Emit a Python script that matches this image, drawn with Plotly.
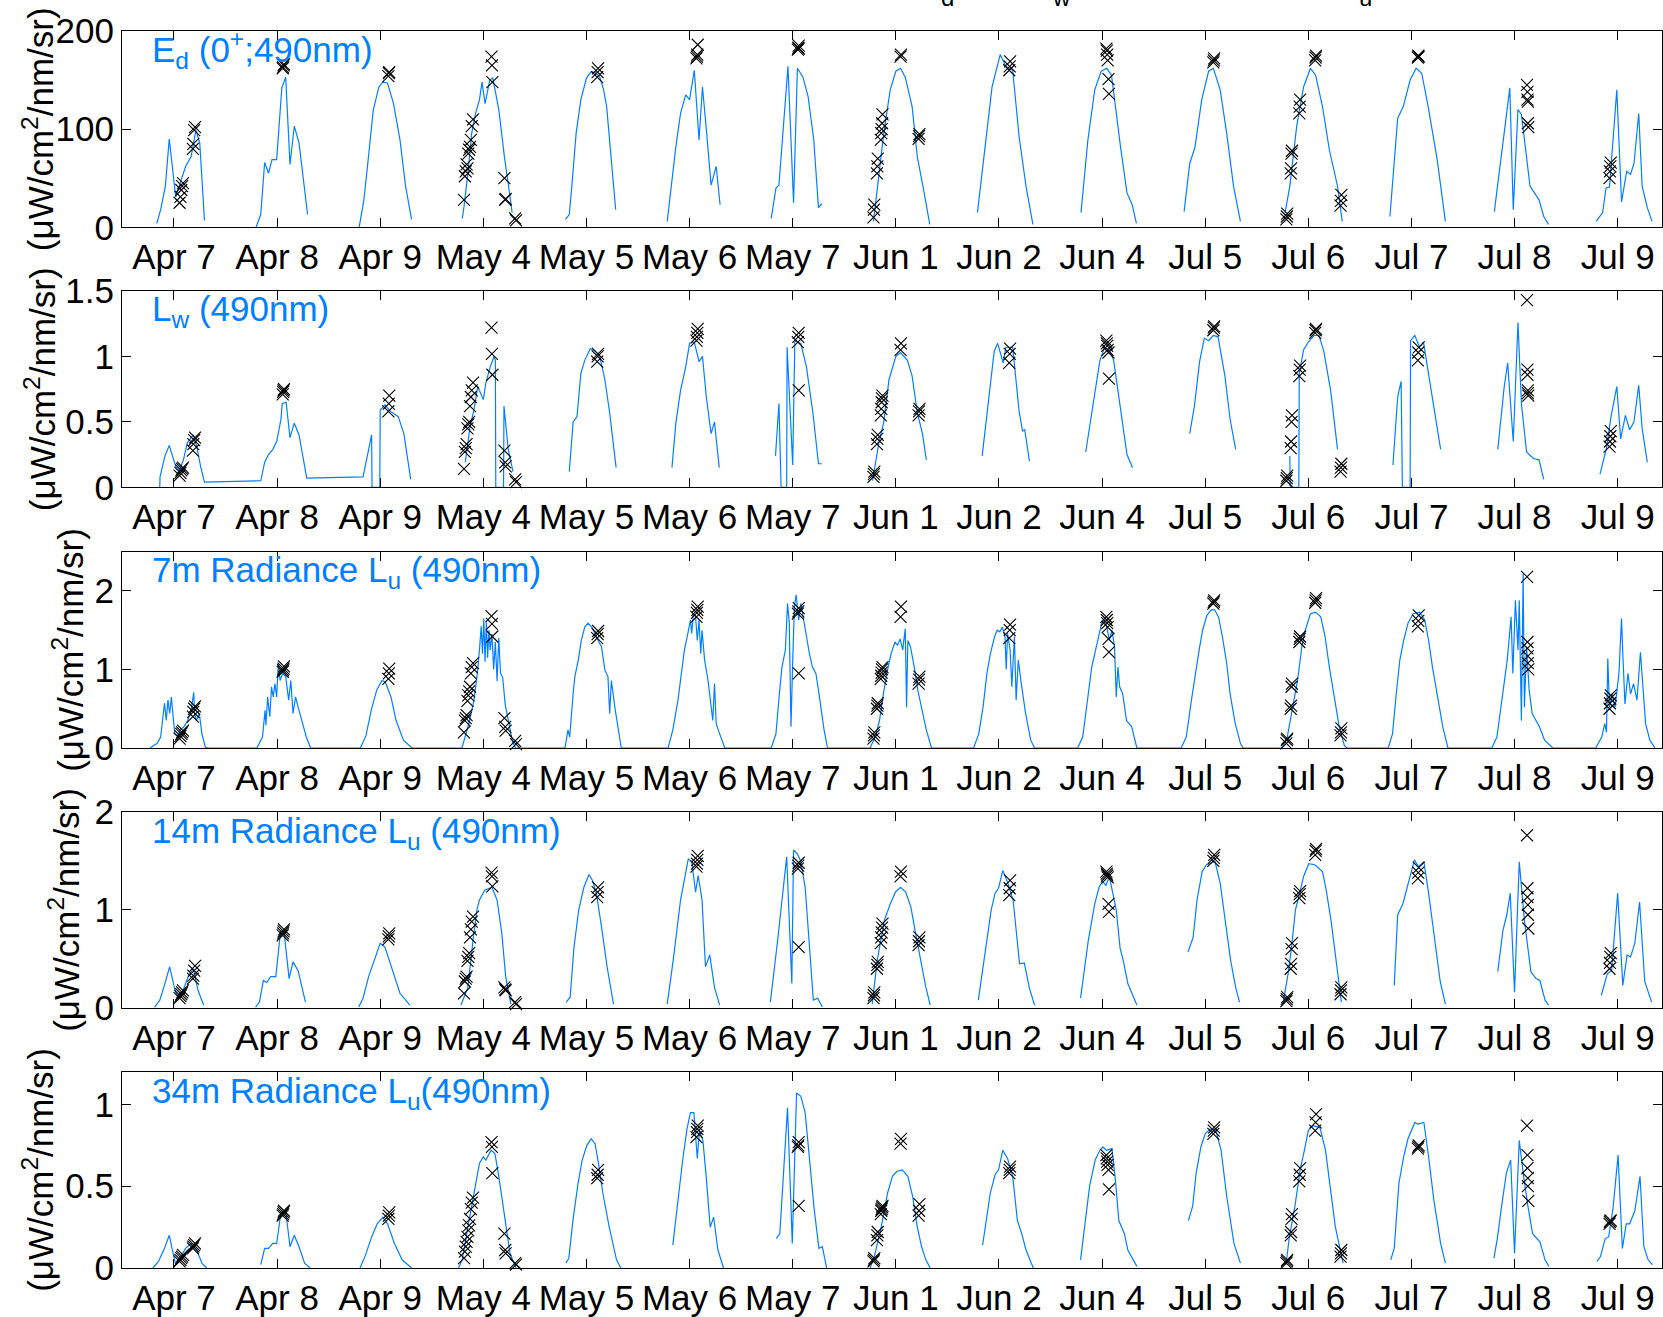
import plotly.graph_objects as go

# ---------------------------------------------------------------- data
DAY_LABELS = ["Apr 7", "Apr 8", "Apr 9", "May 4", "May 5", "May 6", "May 7",
              "Jun 1", "Jun 2", "Jun 4", "Jul 5", "Jul 6", "Jul 7", "Jul 8", "Jul 9"]

# in-situ cast times (local hour), shared by the five quantities
SAMPLE_HOURS = [
    [13.3, 13.5, 13.7, 13.9, 14.1, 16.4, 16.5, 16.7, 16.9],
    [13.3, 13.4, 13.5, 13.6],
    [13.9, 14.0, 14.1],
    [7.5, 7.7, 7.9, 8.1, 8.3, 8.5, 8.7, 8.9, 9.1, 9.3, 9.6, 13.9, 14.0, 14.1, 16.9, 17.1, 17.2, 19.4, 19.6],
    [14.5, 14.6, 14.7],
    [13.6, 13.7, 13.8, 13.9],
    [13.2, 13.3, 13.4, 13.4],
    [6.8, 6.9, 7.0, 7.6, 7.7, 7.8, 8.5, 8.6, 8.7, 8.8, 8.9, 13.1, 13.2, 17.3, 17.4, 17.5],
    [14.4, 14.5, 14.6],
    [13.0, 13.1, 13.2, 13.3, 13.5, 13.6],
    [13.9, 14.0, 14.1],
    [6.9, 7.0, 7.1, 7.9, 8.0, 8.1, 8.2, 9.9, 10.0, 10.1, 13.6, 13.7, 13.8, 19.5, 19.6, 19.7],
    [13.5, 13.6, 13.7],
    [14.9, 15.0, 15.0, 15.1, 15.1, 15.2],
    [10.1, 10.2, 10.3, 10.4],
]

# Ed(0+;490) -- buoy record
ED_HOURS = [
    [8.0, 8.9, 10.0, 10.9, 12.4, 13.3, 14.7, 16.0, 17.1, 18.0, 19.1],
    [7.1, 8.2, 9.1, 10.0, 10.8, 11.9, 13.1, 14.0, 15.0, 16.0, 17.1, 19.1],
    [7.1, 8.2, 9.2, 10.4, 11.7, 12.6, 13.7, 15.1, 16.6, 17.9, 19.3],
    [7.1, 7.5, 8.4, 9.3, 10.2, 11.1, 11.7, 12.4, 13.5, 14.2, 15.6, 16.9, 18.0, 18.7],
    [7.1, 8.0, 8.6, 9.6, 10.7, 12.0, 13.0, 14.0, 15.1, 16.0, 16.7, 17.8, 18.8],
    [6.8, 8.8, 9.9, 11.1, 12.0, 13.1, 14.2, 15.0, 16.0, 17.0, 18.2, 19.1],
    [7.0, 8.1, 8.8, 10.9, 12.2, 13.1, 14.4, 15.6, 16.9, 18.0, 18.8],
    [6.8, 7.9, 9.2, 10.7, 12.0, 13.1, 14.2, 15.8, 17.0, 18.6, 19.9],
    [7.0, 8.9, 10.4, 11.2, 12.3, 13.6, 15.2, 16.7, 18.3, 19.9],
    [7.1, 8.7, 10.3, 11.8, 13.1, 14.2, 16.3, 17.8, 19.0, 20.0],
    [7.1, 8.4, 9.6, 11.2, 12.8, 13.9, 15.5, 17.0, 18.6, 20.2],
    [6.6, 7.7, 9.3, 10.9, 12.5, 13.7, 15.3, 16.9, 18.8, 19.9],
    [7.0, 8.8, 10.1, 11.7, 13.1, 14.4, 15.9, 18.0, 19.9],
    [7.3, 9.3, 10.9, 11.7, 12.8, 13.6, 15.6, 17.7, 18.8, 19.9],
    [7.0, 8.5, 9.3, 10.1, 11.8, 12.9, 14.1, 15.0, 15.8, 16.9, 17.7, 18.9, 20.0],
]
ED_VALUES = [
    [4, 18, 42, 90, 31, 43, 62, 72, 99, 86, 7],
    [0, 13, 66, 55, 69, 69, 142, 153, 64, 103, 86, 13],
    [0, 28, 69, 120, 143, 148, 147, 126, 89, 42, 8],
    [9, 21, 55, 96, 116, 130, 148, 126, 150, 152, 120, 72, 38, 15],
    [8, 13, 42, 96, 130, 152, 158, 158, 153, 140, 123, 70, 18],
    [6, 82, 116, 135, 130, 160, 89, 143, 95, 43, 62, 23],
    [9, 40, 43, 164, 25, 162, 153, 133, 89, 20, 24],
    [6, 50, 96, 140, 159, 162, 153, 123, 72, 35, 3],
    [15, 89, 143, 157, 176, 164, 160, 92, 42, 3],
    [15, 89, 140, 159, 162, 155, 82, 35, 23, 4],
    [16, 65, 81, 130, 159, 162, 140, 96, 42, 6],
    [15, 42, 103, 143, 162, 155, 123, 79, 42, 6],
    [11, 111, 123, 150, 162, 157, 123, 69, 6],
    [16, 89, 142, 18, 120, 115, 42, 28, 11, 3],
    [6, 15, 40, 41, 140, 26, 57, 54, 65, 116, 42, 20, 6],
]
ED_SAMPLES = [
    [25, 31, 38, 42, 45, 80, 85, 99, 102],
    [162, 163, 165, 166],
    [154, 157, 158],
    [28, 52, 57, 64, 60, 75, 79, 82, 89, 103, 110, 174, 165, 148, 50, 28, 29, 9, 7],
    [153, 158, 162],
    [172, 174, 176, 186],
    [181, 183, 185, 182],
    [10, 18, 23, 55, 62, 70, 89, 96, 100, 106, 115, 174, 176, 90, 93, 95],
    [160, 164, 169],
    [182, 180, 176, 170, 151, 136],
    [168, 170, 172],
    [8, 11, 14, 55, 60, 75, 78, 116, 123, 130, 170, 173, 175, 22, 27, 33],
    [173, 175, 174],
    [145, 138, 130, 128, 106, 102],
    [50, 57, 62, 66],
]

# Lw(490)
LW_HOURS = [
    [8.7, 8.75, 9.9, 10.9, 12.4, 13.3, 14.2, 15.1, 16.5, 17.3, 18.2, 19.1],
    [8.2, 9.1, 10.0, 11.0, 11.9, 12.9, 13.2, 14.1, 15.0, 16.0, 17.1, 18.9],
    [8.0, 10.0, 10.1, 11.9, 12.0, 13.1, 14.4, 16.2, 17.5, 19.1],
    [7.8, 8.9, 9.8, 10.7, 12.0, 12.6, 13.6, 14.5, 14.8, 14.9, 16.7, 16.8, 17.8, 18.9],
    [8.0, 8.9, 9.8, 10.7, 11.6, 12.9, 14.0, 15.1, 16.3, 17.4, 18.9],
    [7.9, 8.8, 9.9, 11.1, 12.0, 13.1, 14.2, 15.0, 15.9, 17.0, 17.8, 18.9],
    [8.0, 8.8, 9.3, 10.6, 10.7, 12.0, 12.5, 13.9, 15.2, 16.7, 18.0, 18.8],
    [6.6, 8.0, 9.2, 10.4, 12.0, 13.1, 14.7, 15.8, 17.0, 18.2, 19.1],
    [8.1, 9.6, 10.9, 11.7, 13.0, 13.6, 15.2, 16.7, 17.5, 18.0, 19.1],
    [8.2, 10.0, 11.5, 12.6, 13.7, 14.7, 16.3, 17.8, 19.1],
    [8.4, 9.5, 10.7, 11.8, 12.8, 13.9, 15.0, 16.6, 17.8, 19.1],
    [7.7, 7.8, 9.8, 9.9, 10.9, 12.0, 13.3, 14.5, 15.6, 17.2, 18.8],
    [7.7, 8.8, 9.6, 9.9, 11.7, 11.8, 12.8, 13.9, 14.8, 16.4, 17.7, 18.8],
    [8.1, 9.6, 10.4, 11.7, 12.8, 13.6, 14.8, 16.4, 17.7, 18.8],
    [7.9, 9.4, 10.5, 11.8, 12.7, 13.8, 14.8, 15.8, 16.9, 17.7, 18.9],
]
LW_VALUES = [
    [0.0, 0.08, 0.24, 0.32, 0.16, 0.13, 0.21, 0.34, 0.40, 0.31, 0.16, 0.04],
    [0.05, 0.19, 0.25, 0.29, 0.35, 0.52, 0.64, 0.65, 0.38, 0.49, 0.40, 0.07],
    [0.08, 0.40, 0.0, 0.0, 0.59, 0.63, 0.58, 0.54, 0.41, 0.06],
    [0.19, 0.46, 0.59, 0.77, 0.67, 0.80, 0.92, 1.00, 0.97, 0.0, 0.0, 0.62, 0.29, 0.12],
    [0.12, 0.50, 0.54, 0.87, 0.97, 1.06, 1.04, 1.00, 0.82, 0.57, 0.15],
    [0.15, 0.49, 0.74, 0.92, 1.10, 1.11, 0.96, 1.00, 0.69, 0.41, 0.50, 0.15],
    [0.24, 0.64, 0.0, 0.0, 1.07, 0.17, 1.12, 1.10, 0.92, 0.57, 0.18, 0.18],
    [0.05, 0.33, 0.50, 0.82, 1.00, 1.03, 0.97, 0.85, 0.57, 0.41, 0.21],
    [0.24, 0.67, 1.04, 1.10, 0.95, 1.07, 1.07, 0.58, 0.43, 0.44, 0.20],
    [0.27, 0.64, 0.97, 1.07, 1.05, 0.97, 0.59, 0.25, 0.15],
    [0.41, 0.62, 0.96, 1.14, 1.12, 1.16, 1.15, 0.85, 0.52, 0.29],
    [0.24, 0.0, 0.0, 0.87, 1.05, 1.11, 1.16, 1.16, 1.04, 0.74, 0.29],
    [0.17, 0.69, 0.81, 0.0, 0.0, 1.12, 1.16, 1.07, 1.11, 0.77, 0.52, 0.29],
    [0.29, 0.77, 0.95, 0.35, 1.26, 0.64, 0.27, 0.22, 0.21, 0.06],
    [0.10, 0.30, 0.55, 0.77, 0.37, 0.55, 0.44, 0.50, 0.78, 0.45, 0.19],
]
LW_SAMPLES = [
    [0.09, 0.11, 0.13, 0.14, 0.15, 0.28, 0.33, 0.36, 0.38],
    [0.71, 0.73, 0.74, 0.75],
    [0.58, 0.64, 0.70],
    [0.14, 0.27, 0.30, 0.33, 0.45, 0.48, 0.50, 0.62, 0.69, 0.74, 0.80, 1.22, 1.02, 0.86, 0.28, 0.19, 0.16, 0.06, 0.04],
    [0.96, 1.00, 1.02],
    [1.12, 1.15, 1.18, 1.21],
    [1.11, 1.15, 1.18, 0.74],
    [0.08, 0.10, 0.12, 0.33, 0.37, 0.40, 0.55, 0.60, 0.65, 0.68, 0.70, 1.05, 1.10, 0.55, 0.58, 0.60],
    [0.95, 1.02, 1.06],
    [1.12, 1.10, 1.08, 1.05, 1.03, 0.83],
    [1.20, 1.22, 1.23],
    [0.05, 0.07, 0.09, 0.30, 0.35, 0.50, 0.55, 0.85, 0.90, 0.93, 1.18, 1.20, 1.21, 0.12, 0.15, 0.18],
    [0.97, 1.03, 1.07],
    [1.43, 0.90, 0.86, 0.74, 0.72, 0.70],
    [0.31, 0.35, 0.39, 0.43],
]

# Lu(490) at 7 m -- high-rate record, zero through the night
LU7_HOURS = [
    [6.4, 8.1, 8.9, 9.8, 10.2, 10.6, 11.0, 11.4, 11.8, 12.2, 12.9, 13.5, 14.3, 15.2, 16.0, 16.6, 16.8, 17.2, 17.9, 18.5, 19.3, 20.1],
    [7.3, 8.6, 9.2, 9.4, 9.8, 10.3, 10.7, 11.1, 11.5, 11.9, 12.3, 12.7, 13.3, 14.0, 14.7, 15.2, 15.7, 16.3, 16.9, 17.7, 18.8, 19.8],
    [7.4, 8.7, 9.9, 11.2, 12.4, 13.2, 14.5, 15.7, 17.4, 19.4],
    [7.0, 7.8, 8.8, 9.8, 10.6, 11.1, 11.5, 11.8, 12.1, 12.4, 12.7, 13.0, 13.3, 13.6, 14.0, 14.4, 14.8, 15.2, 15.6, 16.0, 16.5, 17.1, 17.6, 18.3, 18.8, 19.5],
    [7.0, 7.7, 8.1, 8.9, 9.3, 10.1, 10.8, 11.6, 12.4, 13.2, 14.0, 14.7, 15.5, 16.3, 17.0, 17.4, 17.8, 18.6, 19.4, 20.1],
    [7.0, 8.1, 9.3, 10.1, 10.8, 11.6, 12.2, 12.5, 12.9, 13.4, 13.8, 14.2, 14.6, 14.9, 15.5, 16.3, 17.0, 17.4, 17.8, 18.2, 19.0, 20.2],
    [7.0, 8.1, 8.9, 9.5, 10.3, 10.8, 11.2, 11.6, 12.0, 12.4, 12.8, 13.4, 13.9, 14.5, 15.1, 15.9, 16.6, 17.4, 18.1, 18.8, 19.3, 20.1],
    [6.0, 7.2, 8.2, 9.0, 9.9, 10.9, 11.8, 12.4, 13.0, 13.6, 14.2, 14.5, 14.8, 15.4, 16.3, 17.1, 18.1, 19.1, 20.3],
    [6.1, 7.3, 8.3, 9.2, 10.0, 11.0, 11.6, 12.2, 12.8, 13.4, 13.7, 14.0, 14.6, 15.0, 15.6, 16.0, 16.5, 17.2, 18.2, 19.4, 20.3],
    [6.3, 7.5, 8.7, 9.6, 10.5, 11.3, 11.9, 12.5, 13.1, 13.7, 14.3, 14.9, 15.3, 15.7, 16.1, 16.8, 17.7, 18.9, 20.1],
    [6.4, 7.6, 8.8, 9.8, 10.6, 11.4, 12.4, 13.4, 14.2, 15.1, 16.0, 17.0, 17.8, 19.0, 20.2, 20.8],
    [5.9, 7.1, 8.3, 9.5, 10.5, 11.3, 12.5, 13.7, 14.9, 15.9, 16.9, 18.0, 19.2, 20.4, 21.0],
    [6.6, 7.6, 8.4, 9.3, 10.2, 11.2, 12.4, 13.9, 15.1, 16.0, 16.9, 18.1, 19.3, 20.5],
    [6.7, 7.9, 9.1, 10.3, 11.2, 11.6, 12.2, 12.8, 13.1, 13.6, 14.0, 14.3, 14.8, 15.4, 16.1, 16.9, 17.8, 19.0, 20.2, 20.9],
    [6.9, 8.3, 9.0, 9.4, 9.7, 10.1, 10.7, 11.4, 12.3, 12.9, 13.2, 13.7, 14.4, 15.0, 15.7, 16.5, 17.3, 17.9, 18.5, 19.5, 20.7],
]
LU7_VALUES = [
    [0, 0.06, 0.14, 0.57, 0.35, 0.61, 0.44, 0.65, 0.40, 0.18, 0.16, 0.23, 0.27, 0.35, 0.48, 0.71, 0.44, 0.35, 0.44, 0.18, 0.01, 0],
    [0, 0.14, 0.48, 0.29, 0.65, 0.40, 0.78, 0.65, 0.82, 0.65, 1.08, 0.86, 0.95, 0.91, 0.61, 0.86, 0.44, 0.65, 0.52, 0.35, 0.14, 0],
    [0, 0.16, 0.48, 0.74, 0.86, 0.84, 0.65, 0.35, 0.10, 0],
    [0.0, 0.15, 0.35, 0.60, 0.95, 1.25, 1.55, 1.20, 1.65, 1.10, 1.60, 1.15, 1.50, 1.25, 1.45, 1.00, 1.35, 0.85, 1.40, 0.95, 0.90, 0.55, 0.42, 0.25, 0.08, 0.0],
    [0, 0.23, 0.14, 0.69, 0.91, 1.12, 1.37, 1.54, 1.59, 1.54, 1.46, 1.37, 1.29, 0.99, 0.91, 0.44, 0.86, 0.52, 0.27, 0],
    [0, 0.23, 0.61, 0.95, 1.25, 1.46, 1.63, 1.46, 1.71, 1.67, 1.37, 1.63, 1.20, 1.50, 1.12, 0.86, 0.52, 0.35, 0.82, 0.31, 0.18, 0],
    [0, 0.18, 0.69, 1.03, 1.25, 1.84, 1.60, 0.27, 1.10, 1.80, 1.95, 1.63, 1.84, 1.63, 1.46, 1.20, 1.03, 0.95, 0.70, 0.40, 0.23, 0],
    [0, 0.14, 0.35, 0.65, 0.95, 1.20, 1.35, 1.31, 1.39, 1.25, 1.52, 0.52, 1.37, 1.29, 1.03, 0.74, 0.48, 0.23, 0],
    [0, 0.18, 0.52, 0.95, 1.20, 1.42, 1.50, 1.48, 1.54, 1.42, 1.00, 1.46, 1.25, 0.78, 1.42, 0.61, 1.12, 0.82, 0.44, 0.10, 0],
    [0, 0.14, 0.65, 1.03, 1.25, 1.46, 1.59, 1.63, 1.54, 1.37, 1.50, 1.29, 0.65, 1.03, 0.78, 0.69, 0.35, 0.27, 0],
    [0, 0.14, 0.61, 0.99, 1.25, 1.50, 1.69, 1.76, 1.76, 1.67, 1.42, 1.08, 0.69, 0.31, 0.06, 0],
    [0, 0.14, 0.48, 0.86, 1.29, 1.50, 1.71, 1.73, 1.67, 1.42, 1.03, 0.65, 0.27, 0.03, 0],
    [0, 0.18, 0.65, 1.12, 1.37, 1.59, 1.71, 1.73, 1.63, 1.37, 1.03, 0.65, 0.27, 0],
    [0, 0.14, 0.61, 1.12, 1.67, 0.95, 1.88, 1.25, 1.88, 0.35, 2.22, 0.52, 1.29, 0.74, 0.44, 0.35, 0.27, 0.10, 0.03, 0],
    [0, 0.14, 0.31, 0.20, 1.14, 0.52, 0.69, 0.52, 0.95, 1.65, 1.20, 0.56, 0.95, 0.69, 0.82, 0.61, 1.22, 0.78, 0.31, 0.10, 0],
]
LU7_SAMPLES = [
    [0.12, 0.15, 0.18, 0.20, 0.22, 0.40, 0.46, 0.50, 0.53],
    [0.97, 0.99, 1.01, 1.04],
    [0.88, 0.95, 1.01],
    [0.20, 0.35, 0.38, 0.42, 0.60, 0.67, 0.72, 0.78, 0.95, 1.03, 1.08, 1.68, 1.58, 1.42, 0.38, 0.27, 0.22, 0.09, 0.05],
    [1.40, 1.45, 1.49],
    [1.67, 1.72, 1.76, 1.80],
    [1.71, 1.74, 1.78, 0.95],
    [0.12, 0.16, 0.20, 0.50, 0.54, 0.57, 0.88, 0.92, 0.96, 1.00, 1.03, 1.67, 1.80, 0.82, 0.87, 0.91],
    [1.40, 1.50, 1.57],
    [1.67, 1.63, 1.59, 1.54, 1.39, 1.22],
    [1.84, 1.86, 1.88],
    [0.06, 0.10, 0.12, 0.50, 0.54, 0.78, 0.82, 1.35, 1.39, 1.42, 1.85, 1.88, 1.91, 0.16, 0.20, 0.25],
    [1.55, 1.62, 1.69],
    [2.18, 1.35, 1.27, 1.17, 1.08, 1.00],
    [0.50, 0.57, 0.63, 0.67],
]

# Lu(490) at 14 m
LU14_HOURS = [
    [7.5, 8.7, 9.7, 11.0, 12.3, 13.2, 14.3, 15.4, 16.5, 17.6, 18.9],
    [7.0, 7.9, 8.8, 9.6, 10.5, 11.7, 12.8, 13.6, 14.8, 15.7, 16.9, 18.6],
    [7.0, 8.0, 9.3, 10.8, 12.0, 13.1, 14.9, 16.6, 18.9],
    [6.8, 8.4, 9.6, 10.5, 11.1, 12.3, 14.0, 15.2, 16.3, 17.2, 18.4],
    [7.3, 8.2, 9.1, 10.2, 11.4, 12.6, 13.4, 14.3, 15.5, 16.8, 18.3],
    [6.8, 8.2, 9.9, 11.7, 12.5, 13.4, 14.0, 14.9, 15.7, 16.7, 17.8, 19.0],
    [6.8, 8.5, 10.6, 11.8, 12.2, 13.1, 13.9, 14.9, 15.8, 16.8, 17.8, 18.9],
    [6.5, 7.7, 9.3, 10.7, 11.9, 13.1, 14.3, 15.5, 16.6, 17.8, 19.0, 20.0],
    [7.2, 8.7, 10.2, 11.1, 11.9, 12.9, 14.1, 15.3, 16.8, 17.9, 19.1, 20.3],
    [7.0, 8.8, 10.3, 11.3, 12.1, 12.9, 13.7, 15.3, 16.2, 16.9, 18.0, 20.1],
    [8.0, 9.2, 10.1, 11.3, 12.3, 13.1, 14.3, 15.5, 16.7, 17.9, 19.1, 20.0],
    [6.1, 7.3, 8.1, 9.0, 10.0, 10.9, 12.1, 13.5, 15.3, 16.1, 17.3, 18.5, 19.7],
    [8.0, 8.8, 10.0, 11.2, 12.7, 13.6, 14.9, 16.0, 17.2, 18.7, 19.9],
    [8.1, 9.3, 10.2, 11.0, 12.0, 13.1, 14.3, 15.8, 17.0, 17.9, 19.1, 19.9],
    [8.2, 9.6, 10.6, 12.0, 13.2, 14.2, 15.0, 16.0, 17.1, 18.3, 19.9],
]
LU14_VALUES = [
    [0.01, 0.08, 0.22, 0.42, 0.17, 0.10, 0.20, 0.33, 0.40, 0.18, 0.03],
    [0.01, 0.06, 0.28, 0.26, 0.32, 0.32, 0.78, 0.78, 0.30, 0.47, 0.38, 0.06],
    [0.01, 0.10, 0.32, 0.52, 0.66, 0.62, 0.38, 0.15, 0.03],
    [0.03, 0.21, 0.69, 1.00, 1.10, 1.20, 1.23, 1.10, 0.76, 0.32, 0.04],
    [0.06, 0.11, 0.62, 1.00, 1.23, 1.36, 1.30, 1.17, 0.83, 0.42, 0.04],
    [0.04, 0.49, 1.10, 1.52, 1.49, 1.18, 1.35, 1.10, 0.42, 0.54, 0.21, 0.03],
    [0.06, 0.69, 1.54, 0.25, 1.61, 1.57, 1.49, 1.23, 0.69, 0.08, 0.10, 0.01],
    [0.04, 0.49, 0.89, 1.06, 1.18, 1.23, 1.18, 1.03, 0.76, 0.49, 0.21, 0.03],
    [0.08, 0.55, 1.00, 1.17, 1.22, 1.40, 1.27, 1.10, 0.45, 0.46, 0.20, 0.03],
    [0.10, 0.69, 1.06, 1.23, 1.29, 1.25, 1.34, 1.00, 0.61, 0.49, 0.25, 0.03],
    [0.57, 0.72, 1.10, 1.39, 1.46, 1.47, 1.49, 1.27, 0.89, 0.49, 0.21, 0.06],
    [0.04, 0.35, 0.62, 1.00, 1.17, 1.34, 1.47, 1.46, 1.39, 1.22, 0.89, 0.49, 0.06],
    [0.23, 0.95, 1.06, 1.27, 1.51, 1.44, 1.49, 1.17, 0.76, 0.27, 0.04],
    [0.37, 0.79, 0.95, 1.17, 0.16, 1.49, 0.89, 0.37, 0.30, 0.28, 0.08, 0.03],
    [0.13, 0.35, 0.38, 1.17, 0.23, 0.54, 0.52, 0.66, 1.08, 0.27, 0.06],
]
LU14_SAMPLES = [
    [0.10, 0.12, 0.14, 0.16, 0.18, 0.30, 0.33, 0.38, 0.43],
    [0.74, 0.76, 0.78, 0.80],
    [0.70, 0.73, 0.76],
    [0.15, 0.27, 0.30, 0.32, 0.48, 0.52, 0.56, 0.72, 0.80, 0.88, 0.93, 1.38, 1.34, 1.24, 0.21, 0.19, 0.18, 0.06, 0.04],
    [1.13, 1.18, 1.23],
    [1.44, 1.47, 1.51, 1.55],
    [1.42, 1.45, 1.48, 0.62],
    [0.10, 0.13, 0.16, 0.40, 0.44, 0.47, 0.66, 0.72, 0.77, 0.82, 0.86, 1.34, 1.39, 0.64, 0.68, 0.72],
    [1.15, 1.22, 1.30],
    [1.39, 1.37, 1.35, 1.33, 1.06, 0.98],
    [1.50, 1.53, 1.56],
    [0.07, 0.09, 0.11, 0.40, 0.45, 0.60, 0.66, 1.12, 1.16, 1.19, 1.56, 1.60, 1.62, 0.14, 0.18, 0.21],
    [1.32, 1.38, 1.43],
    [1.76, 1.22, 1.13, 1.05, 0.95, 0.81],
    [0.40, 0.46, 0.52, 0.56],
]

# Lu(490) at 34 m
LU34_HOURS = [
    [7.1, 8.4, 9.8, 10.9, 12.3, 13.3, 14.7, 16.0, 17.3, 18.5, 19.6],
    [8.2, 9.1, 10.0, 11.0, 11.9, 12.9, 14.0, 15.0, 16.0, 17.1, 18.4, 19.7],
    [7.3, 8.6, 10.0, 11.3, 12.6, 13.7, 15.3, 17.1, 19.3],
    [6.2, 7.1, 8.4, 9.8, 11.1, 12.0, 12.6, 13.8, 14.7, 15.6, 16.9, 18.2, 19.6],
    [7.2, 7.9, 8.9, 10.0, 11.0, 12.1, 13.1, 14.0, 14.8, 15.8, 17.3, 19.0, 20.0],
    [8.1, 9.3, 10.4, 11.4, 12.2, 13.0, 13.8, 14.3, 15.1, 15.8, 16.8, 17.6, 18.6, 19.9],
    [8.2, 9.0, 10.8, 11.9, 12.9, 13.9, 14.9, 16.0, 17.0, 18.1, 18.9, 19.9],
    [6.0, 7.0, 8.6, 10.1, 11.2, 12.2, 13.5, 14.8, 15.9, 17.0, 18.0, 19.0, 20.0],
    [8.2, 9.0, 10.0, 11.1, 11.9, 12.9, 14.0, 15.2, 16.3, 17.3, 18.3, 20.0],
    [7.0, 8.0, 9.1, 10.4, 11.5, 12.2, 13.0, 14.3, 15.1, 15.9, 17.2, 18.0, 20.1],
    [8.1, 9.1, 9.9, 11.0, 12.0, 13.2, 14.5, 15.7, 17.0, 18.7, 20.2],
    [6.8, 7.6, 8.9, 10.1, 11.1, 12.0, 13.0, 14.7, 16.0, 17.2, 18.3, 20.1],
    [7.2, 8.0, 9.1, 10.2, 11.2, 12.8, 13.5, 14.9, 16.0, 17.2, 18.8, 19.9],
    [7.2, 8.0, 9.0, 10.1, 11.1, 12.0, 13.1, 14.1, 15.1, 16.2, 17.9, 19.1, 20.0],
    [7.2, 8.0, 9.1, 9.9, 10.9, 12.1, 13.1, 14.0, 14.8, 16.0, 17.2, 18.1, 19.1, 20.1],
]
LU34_VALUES = [
    [0, 0.04, 0.12, 0.20, 0.03, 0.06, 0.12, 0.15, 0.11, 0.03, 0],
    [0.02, 0.12, 0.12, 0.15, 0.15, 0.34, 0.35, 0.13, 0.20, 0.13, 0.03, 0],
    [0, 0.08, 0.19, 0.27, 0.31, 0.27, 0.15, 0.05, 0],
    [0, 0.05, 0.25, 0.44, 0.64, 0.68, 0.66, 0.72, 0.70, 0.56, 0.32, 0.09, 0],
    [0.03, 0.06, 0.30, 0.51, 0.66, 0.75, 0.79, 0.76, 0.64, 0.46, 0.25, 0.05, 0.0],
    [0.14, 0.42, 0.66, 0.85, 0.95, 0.95, 0.67, 0.84, 0.78, 0.58, 0.25, 0.31, 0.11, 0],
    [0.18, 0.21, 0.98, 0.15, 1.07, 1.05, 0.95, 0.66, 0.36, 0.12, 0.13, 0],
    [0, 0.07, 0.25, 0.46, 0.56, 0.59, 0.60, 0.56, 0.44, 0.25, 0.13, 0.05, 0],
    [0.14, 0.29, 0.46, 0.57, 0.60, 0.72, 0.67, 0.56, 0.29, 0.21, 0.11, 0],
    [0.05, 0.25, 0.50, 0.66, 0.72, 0.74, 0.72, 0.73, 0.54, 0.29, 0.21, 0.11, 0.01],
    [0.29, 0.38, 0.58, 0.74, 0.82, 0.85, 0.84, 0.72, 0.44, 0.15, 0.03],
    [0.02, 0.19, 0.38, 0.60, 0.72, 0.84, 0.87, 0.86, 0.72, 0.48, 0.25, 0.03],
    [0.05, 0.12, 0.52, 0.68, 0.79, 0.89, 0.88, 0.89, 0.68, 0.42, 0.15, 0.03],
    [0.06, 0.18, 0.38, 0.58, 0.66, 0.09, 0.78, 0.56, 0.38, 0.21, 0.16, 0.05, 0.01],
    [0.04, 0.07, 0.18, 0.19, 0.36, 0.69, 0.12, 0.27, 0.27, 0.35, 0.56, 0.13, 0.05, 0.02],
]
LU34_SAMPLES = [
    [0.04, 0.05, 0.06, 0.07, 0.08, 0.12, 0.13, 0.14, 0.15],
    [0.32, 0.33, 0.34, 0.35],
    [0.30, 0.32, 0.34],
    [0.06, 0.10, 0.13, 0.16, 0.19, 0.23, 0.26, 0.30, 0.36, 0.40, 0.43, 0.77, 0.74, 0.58, 0.21, 0.11, 0.09, 0.03, 0.02],
    [0.55, 0.57, 0.60],
    [0.80, 0.83, 0.85, 0.87],
    [0.74, 0.75, 0.77, 0.38],
    [0.04, 0.05, 0.06, 0.17, 0.20, 0.22, 0.33, 0.35, 0.36, 0.37, 0.38, 0.76, 0.79, 0.32, 0.35, 0.39],
    [0.58, 0.60, 0.62],
    [0.69, 0.67, 0.65, 0.63, 0.60, 0.48],
    [0.82, 0.84, 0.86],
    [0.03, 0.04, 0.05, 0.20, 0.22, 0.30, 0.33, 0.53, 0.57, 0.61, 0.84, 0.89, 0.94, 0.07, 0.09, 0.11],
    [0.73, 0.74, 0.75],
    [0.87, 0.69, 0.61, 0.55, 0.50, 0.41],
    [0.27, 0.28, 0.29, 0.29],
]

# ---------------------------------------------------------------- style
BLUE = "rgb(0,128,255)"
FONT = "Liberation Sans, Arial, Helvetica, sans-serif"
FS = 35
W, H = 1663, 1317
ML, MR, MT, MB = 122, 1, 31, 49
PH = H - MT - MB
PW = W - ML - MR
PANEL_TOP = [31, 291, 551.7, 811.7, 1071.7]
PANEL_H = 196.3
UNITS = "(\u03bcW/cm<sup>2</sup>/nm/sr)"

PANELS = [
    dict(hours=ED_HOURS, values=ED_VALUES, samples=ED_SAMPLES, joined=set(),
         yrange=[0, 200], yticks=[0, 100, 200], ytext=["0", "100", "200"],
         label="E<sub>d</sub> (0<sup>+</sup>;490nm)", label_dy=-9, title_x=38),
    dict(hours=LW_HOURS, values=LW_VALUES, samples=LW_SAMPLES, joined={0, 1},
         yrange=[0, 1.5], yticks=[0, 0.5, 1, 1.5], ytext=["0", "0.5", "1", "1.5"],
         label="L<sub>w</sub> (490nm)", label_dy=-5, title_x=40),
    dict(hours=LU7_HOURS, values=LU7_VALUES, samples=LU7_SAMPLES, joined=set(range(15)),
         yrange=[0, 2.5], yticks=[0, 1, 2], ytext=["0", "1", "2"],
         label="7m Radiance L<sub>u</sub> (490nm)", label_dy=-5, title_x=68),
    dict(hours=LU14_HOURS, values=LU14_VALUES, samples=LU14_SAMPLES, joined=set(),
         yrange=[0, 2], yticks=[0, 1, 2], ytext=["0", "1", "2"],
         label="14m Radiance L<sub>u</sub> (490nm)", label_dy=-4, title_x=64),
    dict(hours=LU34_HOURS, values=LU34_VALUES, samples=LU34_SAMPLES, joined=set(),
         yrange=[0, 1.2], yticks=[0, 0.5, 1], ytext=["0", "0.5", "1"],
         label="34m Radiance L<sub>u</sub>(490nm)", label_dy=-4, title_x=38),
]


def day_x(day, hour):
    return day + (hour - 12.0) / 24.0


def line_xy(hours, values, joined):
    xs, ys = [], []
    for d, (hh, vv) in enumerate(zip(hours, values)):
        for h, v in zip(hh, vv):
            xs.append(day_x(d, h))
            ys.append(v)
        if d not in joined:
            xs.append(None)
            ys.append(None)
    return xs, ys


def sample_xy(samples):
    xs, ys = [], []
    for d, (tt, vv) in enumerate(zip(SAMPLE_HOURS, samples)):
        for t, v in zip(tt, vv):
            xs.append(day_x(d, t))
            ys.append(v)
    return xs, ys


def paper_y(px):
    return (H - MB - px) / PH


def paper_x(px):
    return (px - ML) / PW


fig = go.Figure()
annotations = []
axis_common = dict(showline=True, linecolor="black", linewidth=1.2, mirror="ticks",
                   ticks="inside", ticklen=9, tickwidth=1, tickcolor="black",
                   showgrid=False, zeroline=False,
                   tickfont=dict(family=FONT, size=FS, color="black"))

for k, p in enumerate(PANELS):
    sfx = "" if k == 0 else str(k + 1)
    lx, ly = line_xy(p["hours"], p["values"], p["joined"])
    fig.add_trace(go.Scatter(x=lx, y=ly, mode="lines", line=dict(color=BLUE, width=1.2),
                             xaxis="x" + sfx, yaxis="y" + sfx, showlegend=False,
                             hoverinfo="skip"))
    sx, sy = sample_xy(p["samples"])
    fig.add_trace(go.Scatter(x=sx, y=sy, mode="markers",
                             marker=dict(symbol="x-thin", size=12,
                                         line=dict(color="black", width=1.1)),
                             xaxis="x" + sfx, yaxis="y" + sfx, showlegend=False,
                             cliponaxis=False))
    top = PANEL_TOP[k]
    dom = [max(0.0, paper_y(top + PANEL_H)), min(1.0, paper_y(top))]
    fig.layout["xaxis" + sfx] = dict(axis_common, domain=[0, 1], anchor="y" + sfx,
                                     range=[-0.504, 14.43], tickmode="array",
                                     tickvals=list(range(len(DAY_LABELS))),
                                     ticktext=DAY_LABELS, ticklabelstandoff=-1)
    fig.layout["yaxis" + sfx] = dict(axis_common, domain=dom, anchor="x" + sfx,
                                     range=p["yrange"], tickmode="array",
                                     tickvals=p["yticks"], ticktext=p["ytext"],
                                     ticklabelstandoff=0)
    annotations.append(dict(text=p["label"], xref="paper", yref="paper",
                            x=paper_x(150), y=paper_y(top + 1 + p["label_dy"]),
                            xanchor="left", yanchor="top", showarrow=False,
                            font=dict(family=FONT, size=FS, color=BLUE)))
    annotations.append(dict(text=UNITS, xref="paper", yref="paper",
                            x=paper_x(p["title_x"]), y=paper_y(top + PANEL_H / 2),
                            xanchor="center", yanchor="middle", textangle=-90,
                            showarrow=False,
                            font=dict(family=FONT, size=FS, color="black")))

# subscripts of the figure heading, running off the top edge
for ch, px in [("d", 947), ("w", 1061), ("u", 1365)]:
    annotations.append(dict(text=ch, xref="paper", yref="paper", x=paper_x(px),
                            y=paper_y(13), xanchor="center", yanchor="bottom",
                            showarrow=False,
                            font=dict(family=FONT, size=24, color="black")))

fig.update_layout(width=W, height=H, margin=dict(l=ML, r=MR, t=MT, b=MB),
                  paper_bgcolor="white", plot_bgcolor="white",
                  annotations=annotations, showlegend=False)

fig.write_html("out.html")
